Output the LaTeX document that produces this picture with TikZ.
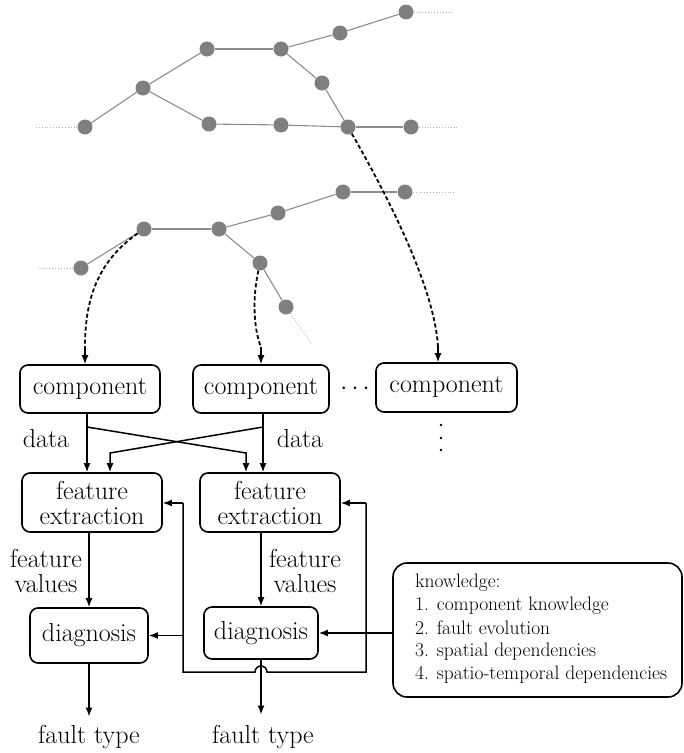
\documentclass[tikz,border=0pt]{standalone}
\usepackage{fontspec}
\usetikzlibrary{arrows.meta}
\definecolor{nodegray}{HTML}{7F7F7F}
\definecolor{edgegray}{HTML}{8C8C8C}
\newcommand\bigfont{\fontsize{26}{25}\selectfont}
\newcommand\smallfont{\fontsize{19.5}{20}\selectfont}
\tikzset{
  gdot/.style={circle,fill=nodegray,inner sep=0pt,minimum size=15pt},
  gedge/.style={edgegray,line width=1.1pt},
  gext/.style={gray!60,dotted,line width=0.9pt},
  box/.style={draw,rounded corners=8pt,line width=1.6pt,inner sep=0pt,font=\bigfont,align=center},
  arr/.style={line width=1.5pt,-{Latex[length=9pt,width=7pt]}},
  plainline/.style={line width=1.5pt},
  dconn/.style={line width=1.8pt,dash pattern=on 4pt off 2.5pt},
  lbl/.style={font=\bigfont,inner sep=0pt,align=center},
  ktext/.style={font=\smallfont,inner sep=0pt,anchor=base west},
  vdot/.style={circle,fill=black,inner sep=0pt,minimum size=2.6pt},
}
\begin{document}
\begin{tikzpicture}[x=1pt,y=-1pt]
\useasboundingbox (0,0) rectangle (684,753);
% ---------- network ----------
\foreach \n/\p in {A/{85,127},B/{143,88},C/{207,49},D/{281,49},E/{340,33},F/{406,12},
                   G/{322,83},H/{209,124},I/{281,125},J/{348,127},K/{411,127},
                   L/{81,268},M/{144,229},N/{219,229},O/{278,213},P/{343,192},Q/{405,192},
                   R/{260,263},S/{286,307}}
  {\node[gdot] (\n) at (\p) {};}
\coordinate (xA) at (36,127);
\coordinate (xF) at (453,12);
\coordinate (xK) at (458,127);
\coordinate (xL) at (38,268);
\coordinate (xQ) at (456,192);
\coordinate (xS) at (311,343);
\foreach \a/\b in {A/B,B/C,C/D,D/E,E/F,D/G,G/J,B/H,H/I,I/J,J/K,
                   L/M,M/N,N/O,O/P,P/Q,N/R,R/S}
  {\draw[gedge] (\a) -- (\b);}
\draw[gext] (A) -- (xA);
\draw[gext] (F) -- (xF);
\draw[gext] (K) -- (xK);
\draw[gext] (L) -- (xL);
\draw[gext] (Q) -- (xQ);
\draw[gext] (S) -- (xS);
% ---------- boxes ----------
\node[box,minimum width=140pt,minimum height=48pt] (c1) at (90,389) {component};
\node[box,minimum width=136pt,minimum height=48pt] (c2) at (261,389) {component};
\node[box,minimum width=141pt,minimum height=49pt] (c3) at (446.5,387.5) {component};
\node[lbl] (hd) at (355,389) {$\cdots$};
\node[vdot] (v1) at (441,425) {};
\node[vdot] (v2) at (441,438) {};
\node[vdot] (v3) at (441,450) {};
\node[box,minimum width=140pt,minimum height=59pt] (fe1) at (92,502.5) {feature\\extraction};
\node[box,minimum width=140pt,minimum height=59pt] (fe2) at (270,502.5) {feature\\extraction};
\node[box,minimum width=118pt,minimum height=55pt] (d1) at (89,635.5) {diagnosis};
\node[box,minimum width=114pt,minimum height=52pt] (d2) at (261,633) {diagnosis};
\node[draw,rounded corners=14pt,line width=1.6pt,minimum width=289pt,minimum height=134pt] (kb) at (537.5,630) {};
\node[ktext] (k0) at (415,587) {knowledge:};
\node[ktext] (k1) at (415,610) {1. component knowledge};
\node[ktext] (k2) at (415,634) {2. fault evolution};
\node[ktext] (k3) at (415,656) {3. spatial dependencies};
\node[ktext] (k4) at (415,679) {4. spatio-temporal dependencies};
% labels
\node[lbl,anchor=base] (dl1) at (46,447) {data};
\node[lbl,anchor=base] (dl2) at (300,447) {data};
\node[lbl] (fv1) at (46,571) {feature\\values};
\node[lbl] (fv2) at (305,571) {feature\\values};
\node[lbl,anchor=base] (ft1) at (89,743) {fault type};
\node[lbl,anchor=base] (ft2) at (263,743) {fault type};
% ---------- dashed links from network ----------
\coordinate (e1) at (85,347);
\coordinate (e2) at (261,347);
\coordinate (e3) at (438,347);
\draw[dconn] (M) .. controls (97,262) and (85,300) .. (e1);
\draw[dconn] (R) .. controls (252,300) and (254,330) .. (e2);
\draw[dconn] (J) .. controls (390,200) and (435,290) .. (e3);
\draw[arr] (e1) -- (e1 |- c1.north);
\draw[arr] (e2) -- (e2 |- c2.north);
\draw[arr] (e3) -- (e3 |- c3.north);
% ---------- data arrows ----------
\coordinate (a1) at (87,427);
\coordinate (a2) at (263,427);
\coordinate (b1) at (110,453);
\coordinate (b2) at (246,453);
\draw[arr] (a1 |- c1.south) -- (a1 |- fe1.north);
\draw[arr] (a2 |- c2.south) -- (a2 |- fe2.north);
\draw[arr] (a1) -- (b2) -- (b2 |- fe2.north);
\draw[arr] (a2) -- (b1) -- (b1 |- fe1.north);
% ---------- feature values ----------
\draw[arr] (fe1.south -| d1.north) -- (d1.north);
\draw[arr] (fe2.south -| d2.north) -- (d2.north);
% ---------- feedback loop ----------
\coordinate (lt) at (183,503);
\coordinate (lb) at (183,672);
\coordinate (rb) at (366,672);
\coordinate (rt) at (366,503);
\coordinate (bj) at (255,672);
\draw[plainline] (lt) -- (lb) -- (bj) arc[start angle=180,end angle=0,radius=6pt] -- (rb) -- (rt);
\draw[arr] (lt) -- (lt -| fe1.east);
\draw[arr] (rt) -- (rt -| fe2.east);
\draw[arr] (lt |- d1.east) -- (d1.east);
\draw[arr] (kb.west |- d2.east) -- (d2.east);
% ---------- outputs ----------
\draw[arr] (d1.south) -- ([yshift=8pt]ft1.north);
\draw[arr] (d2.south) -- ([yshift=10pt]ft1.north -| d2.south);
\end{tikzpicture}
\end{document}
